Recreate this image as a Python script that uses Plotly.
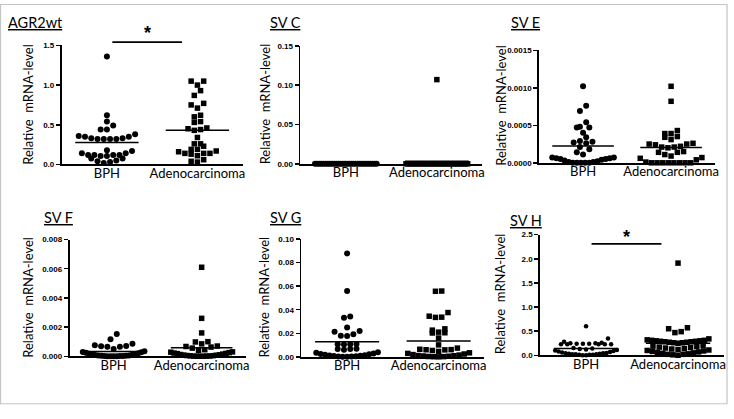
import plotly.graph_objects as go

W, H = 734, 419

CATEGORIES = ["BPH", "Adenocarcinoma"]
TITLES = ["AGR2wt", "SV C", "SV E", "SV F", "SV G", "SV H"]
Y_TITLE = "Relative\u00a0 mRNA-level"

# ---- data ----
agr2wt_bph = [1.36, 0.62, 0.54, 0.49, 0.44, 0.44,
              0.38, 0.36, 0.35, 0.35, 0.33, 0.33, 0.32, 0.32, 0.32, 0.32,
              0.18, 0.17, 0.14, 0.14, 0.12, 0.12, 0.12, 0.12, 0.107, 0.107,
              0.074, 0.074, 0.05, 0.04, 0.03, 0.02]
agr2wt_adeno = [1.05, 1.05, 1.00, 0.93, 0.87, 0.77, 0.75, 0.71, 0.62, 0.60,
                0.54, 0.53, 0.46, 0.45, 0.44, 0.43, 0.34, 0.26, 0.26, 0.23,
                0.19, 0.19, 0.17, 0.16, 0.14, 0.14, 0.14, 0.13, 0.11, 0.06,
                0.04, 0.03]
svc_bph = [0.0] * 30
svc_adeno = [0.107] + [0.0] * 31
sve_bph = [0.00102, 0.00076, 0.00069, 0.00054, 0.00048, 0.00047, 0.00047,
           0.00040, 0.00034, 0.00029, 0.00028, 0.00027, 0.00026, 0.00021,
           0.00018, 0.00014, 0.00011, 0.00007, 0.00007, 0.00006, 0.00006,
           0.00005, 0.00005, 0.00004, 0.00003, 0.00002, 0.00001, 0.00001,
           0.0, 0.0, 0.0, 0.0, 0.0]
sve_adeno = [0.00102, 0.00082, 0.00043, 0.00039, 0.00039, 0.00035, 0.00034,
             0.00031, 0.00026, 0.00025, 0.00025, 0.00024, 0.00022, 0.00021,
             0.00021, 0.00020, 0.00015, 0.00014, 0.00014, 0.00011, 0.00009,
             0.00007, 0.00006, 0.00004, 0.00001, 0.0, 0.0, 0.0, 0.0, 0.0,
             0.0, 0.0, 0.0]
svf_bph = [0.00153, 0.00117, 0.00085, 0.00075, 0.00070, 0.00068, 0.00066,
           0.00065, 0.00050, 0.00034, 0.00030, 0.00027, 0.00024, 0.00021,
           0.00018, 0.00015, 0.00012, 0.00010, 0.00008, 0.00006, 0.00005,
           0.00004, 0.00003, 0.00002, 0.00001, 0.00001, 0.0, 0.0, 0.0, 0.0]
svf_adeno = [0.0061, 0.0026, 0.0016, 0.00100, 0.00098, 0.00085, 0.00070,
             0.00067, 0.00063, 0.00056, 0.00045, 0.00040, 0.00030, 0.00028,
             0.00025, 0.00022, 0.00020, 0.00018, 0.00015, 0.00012, 0.00010,
             0.00008, 0.00007, 0.00005, 0.00004, 0.00003, 0.00002, 0.00001,
             0.00001, 0.0, 0.0, 0.0]
svg_bph = [0.0876, 0.0558, 0.0343, 0.0331, 0.0249, 0.0220, 0.0213, 0.0193,
           0.0180, 0.0178, 0.0110, 0.0108, 0.0107, 0.0106, 0.0070, 0.0068,
           0.0067, 0.0060, 0.0040, 0.0035, 0.0030, 0.0026, 0.0022, 0.0018,
           0.0015, 0.0012, 0.0010, 0.0008, 0.0006, 0.0004, 0.0003, 0.0002,
           0.0001]
svg_adeno = [0.0558, 0.0556, 0.0376, 0.0345, 0.0337, 0.0335, 0.0238, 0.0227,
             0.0210, 0.0205, 0.0203, 0.0160, 0.0102, 0.0075, 0.0065, 0.0062,
             0.0061, 0.0060, 0.0055, 0.0047, 0.0035, 0.0030, 0.0025, 0.0020,
             0.0016, 0.0012, 0.0010, 0.0008, 0.0006, 0.0004, 0.0003, 0.0002,
             0.0001]
svh_bph = [0.60, 0.35, 0.28, 0.26, 0.25, 0.25, 0.24, 0.24, 0.24, 0.23, 0.23,
           0.23, 0.23, 0.23, 0.15, 0.14, 0.13, 0.12, 0.11, 0.10, 0.09, 0.08,
           0.07, 0.06, 0.05, 0.04, 0.04, 0.03, 0.03, 0.02, 0.02, 0.02, 0.01,
           0.01, 0.01, 0.0, 0.0]
svh_adeno = [1.91, 0.57, 0.55, 0.49, 0.47, 0.34,
             0.32, 0.31, 0.31, 0.30, 0.30, 0.29, 0.29, 0.28, 0.28, 0.27, 0.27,
             0.26, 0.26, 0.25,
             0.20, 0.19, 0.18, 0.17, 0.16, 0.15, 0.14, 0.13, 0.12, 0.11, 0.10,
             0.09, 0.08, 0.07, 0.06, 0.05, 0.04, 0.03, 0.02, 0.02, 0.01, 0.0]

BPH_SERIES = [agr2wt_bph, svc_bph, sve_bph, svf_bph, svg_bph, svh_bph]
ADENO_SERIES = [agr2wt_adeno, svc_adeno, sve_adeno, svf_adeno, svg_adeno, svh_adeno]

Y_MAX = [1.5, 0.15, 0.0015, 0.008, 0.10, 2.5]
Y_DTICK = [0.5, 0.05, 0.0005, 0.002, 0.02, 0.5]
Y_FMT = [".1f", ".2f", ".4f", ".3f", ".2f", ".1f"]

# significance bars: (panel, x from, x to, bar level, star level)
SIG = [(0, 1.06, 1.83, 1.54, 1.66), (5, 1.06, 1.82, 2.31, 2.45)]

# ---- layout geometry (pixels) ----
BOX = [(62, 244, 42.3, 164), (302, 485, 42.7, 163.3), (542, 719, 47.3, 162.3),
       (70, 247, 240.7, 360), (303, 487, 240, 360.7), (543, 728, 235.7, 359)]
TITLE_POS = [(6, 18.5), (269, 19), (512, 19), (42, 218.5), (269, 218.5), (511, 221.5)]
YTITLE_X = [28, 266, 503, 28, 265, 503]
BPH_SIZE = [6, 6, 6, 6, 6, 4.5]
XR = (0.5, 2.5)

FONT = "Lato"


def swarm(vals, center, ppu_y, ppu_x, diam=5.5, sp=6.3, maxw=62):
    order = sorted(range(len(vals)), key=lambda i: vals[i])
    xs = [center] * len(vals)
    i = 0
    while i < len(order):
        v0 = vals[order[i]]
        row = [order[i]]
        j = i + 1
        while j < len(order) and (vals[order[j]] - v0) * ppu_y <= diam:
            row.append(order[j])
            j += 1
        n = len(row)
        s = sp if (n - 1) * sp <= maxw else maxw / max(n - 1, 1)
        offs = [(k - (n - 1) / 2) * s for k in range(n)]
        offs = sorted(offs, key=lambda o: (abs(o), o))
        for idx, o in zip(row, offs):
            xs[idx] = center + o / ppu_x
        i = j
    return xs


fig = go.Figure()
layout = dict(width=W, height=H, margin=dict(l=0, r=0, t=0, b=0),
              paper_bgcolor="white", plot_bgcolor="white", showlegend=False)
annotations = []
shapes = []


def px_x(p, xv):
    x0, x1, _, _ = BOX[p]
    return x0 + (xv - XR[0]) / (XR[1] - XR[0]) * (x1 - x0)


def px_y(p, yv):
    _, _, yt, yb = BOX[p]
    return yb - yv / Y_MAX[p] * (yb - yt)


for p in range(6):
    x0, x1, yt, yb = BOX[p]
    ax = "" if p == 0 else str(p + 1)
    ppu_x = (x1 - x0) / (XR[1] - XR[0])
    ppu_y = (yb - yt) / Y_MAX[p]
    for ci, (series, sym, size) in enumerate(
            [(BPH_SERIES[p], "circle", BPH_SIZE[p]), (ADENO_SERIES[p], "square", 5.5)]):
        center = ci + 1
        xs = swarm(series, center, ppu_y, ppu_x)
        fig.add_trace(go.Scatter(
            x=xs, y=series, mode="markers", cliponaxis=False,
            marker=dict(symbol=sym, size=size, color="black", line=dict(width=0)),
            xaxis="x" + ax, yaxis="y" + ax, hoverinfo="skip"))
        mean = sum(series) / len(series)
        fig.add_trace(go.Scatter(
            x=[center - 0.35, center + 0.35], y=[mean, mean], mode="lines",
            line=dict(color="black", width=1.5), cliponaxis=False,
            xaxis="x" + ax, yaxis="y" + ax, hoverinfo="skip"))
    layout["xaxis" + ax] = dict(
        domain=[x0 / W, x1 / W], range=list(XR), anchor="y" + ax,
        showline=True, linecolor="black", linewidth=1.8, ticks="",
        tickvals=[1, 2], ticktext=CATEGORIES, showgrid=False, zeroline=False,
        ticklabelstandoff=-4,
        tickfont=dict(family=FONT, size=13, color="black"), fixedrange=True)
    layout["yaxis" + ax] = dict(
        domain=[1 - yb / H, 1 - yt / H], range=[0, Y_MAX[p]], anchor="x" + ax,
        showline=True, linecolor="black", linewidth=1.8, ticks="outside",
        ticklen=4, tickwidth=1.5, tickcolor="black", dtick=Y_DTICK[p], tick0=0,
        tickformat=Y_FMT[p], showgrid=False, zeroline=False,
        tickfont=dict(family="Liberation Sans", size=8, color="black", weight="bold"),
        fixedrange=True)
    tx, ty = TITLE_POS[p]
    annotations.append(dict(
        text="<u>" + TITLES[p] + "</u>", x=tx / W, y=1 - ty / H, xref="paper",
        yref="paper", xanchor="left", yanchor="middle", showarrow=False,
        font=dict(family=FONT, size=14.5, color="black")))
    annotations.append(dict(
        text=Y_TITLE, x=YTITLE_X[p] / W, y=1 - ((yt + yb) / 2 - 1) / H,
        xref="paper", yref="paper", xanchor="center", yanchor="middle",
        textangle=-90, showarrow=False,
        font=dict(family=FONT, size=13, color="black")))

for p, xa, xb, ybar, ystar in SIG:
    shapes.append(dict(type="line", xref="paper", yref="paper",
                       x0=px_x(p, xa) / W, x1=px_x(p, xb) / W,
                       y0=1 - px_y(p, ybar) / H, y1=1 - px_y(p, ybar) / H,
                       line=dict(color="black", width=1.8)))
    annotations.append(dict(
        text="*", x=px_x(p, (xa + xb) / 2) / W, y=1 - px_y(p, ystar) / H,
        xref="paper", yref="paper", xanchor="center", yanchor="middle",
        showarrow=False, font=dict(family="Liberation Sans", size=18,
                                   color="black", weight="bold")))

shapes.append(dict(type="rect", xref="paper", yref="paper",
                   x0=0.5 / W, x1=731 / W, y0=1 - 408.5 / H, y1=1 - 0.5 / H,
                   line=dict(color="#c4c4c4", width=1.2)))

layout["annotations"] = annotations
layout["shapes"] = shapes
fig.update_layout(**layout)
fig.write_html("out.html",
               config={"displayModeBar": False, "staticPlot": True},
               post_script="document.body.style.margin='0';"
                           "document.body.style.overflow='hidden';")
